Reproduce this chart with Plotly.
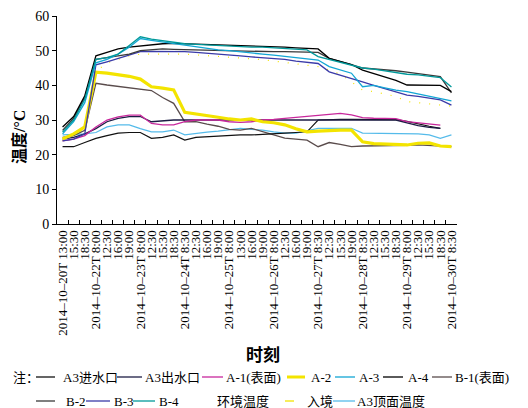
import plotly.graph_objects as go

categories = [
    "2014-10-20T 13:00", "2014-10-20T 15:30", "2014-10-20T 18:30",
    "2014-10-22T 8:00", "2014-10-22T 12:30", "2014-10-22T 16:00", "2014-10-22T 19:00",
    "2014-10-23T 8:00", "2014-10-23T 12:30", "2014-10-23T 15:30", "2014-10-23T 18:30",
    "2014-10-24T 8:30", "2014-10-24T 12:30", "2014-10-24T 16:00", "2014-10-24T 19:00",
    "2014-10-25T 8:00", "2014-10-25T 13:00", "2014-10-25T 16:00", "2014-10-25T 19:00",
    "2014-10-26T 8:00", "2014-10-26T 12:30", "2014-10-26T 16:00", "2014-10-26T 19:00",
    "2014-10-27T 8:30", "2014-10-27T 12:30", "2014-10-27T 15:30", "2014-10-27T 19:00",
    "2014-10-28T 8:30", "2014-10-28T 12:30", "2014-10-28T 15:30", "2014-10-28T 18:30",
    "2014-10-29T 8:00", "2014-10-29T 12:30", "2014-10-29T 15:30", "2014-10-29T 18:30",
    "2014-10-30T 8:30",
]

tick_labels = [
    "2014–10–20T 13:00", "15:30", "18:30",
    "2014–10–22T 8:00", "12:30", "16:00", "19:00",
    "2014–10–23T 8:00", "12:30", "15:30", "18:30",
    "2014–10–24T 8:30", "12:30", "16:00", "19:00",
    "2014–10–25T 8:00", "13:00", "16:00", "19:00",
    "2014–10–26T 8:00", "12:30", "16:00", "19:00",
    "2014–10–27T 8:30", "12:30", "15:30", "19:00",
    "2014–10–28T 8:30", "12:30", "15:30", "18:30",
    "2014–10–29T 8:00", "12:30", "15:30", "18:30",
    "2014–10–30T 8:30",
]

a3_inlet = [22.3, 22.3, 23.5, 24.7, 25.5, 26.2, 26.4, 26.4, 24.7, 25.0, 25.7, 24.2, 25.0, 25.2, 25.5, 25.5,
            25.7, 25.7, 25.8, 26.0, 26.2, 26.4, 26.6, 30.0, 30.2, 30.2, 30.2, 30.2, 30.2, 30.2, 30.1, 29.6,
            28.8, 28.2, 27.6, None]
a3_outlet = [24.5, 25.0, 26.0, 27.5, 29.5, 30.5, 31.0, 31.0, 29.5, 29.8, 30.0, 30.0, 30.0, 30.0, 30.0, 30.0,
             30.0, 30.0, 30.0, 30.0, 30.0, 30.0, 30.0, 30.1, 30.2, 30.2, 30.2, 30.2, 30.0, 30.0, 30.0, 29.2,
             28.4, 27.9, 27.6, None]
a1_surface = [24.0, 24.5, 25.5, 28.0, 30.0, 30.9, 31.4, 31.4, 29.0, 28.6, 28.6, 29.5, 30.0, 30.0, 30.0, 29.5,
              29.3, 29.5, 30.0, 30.2, 30.5, 30.8, 31.0, 31.2, 31.5, 31.9, 31.5, 30.7, 30.5, 30.4, 30.4, 29.5,
              29.2, 28.8, 28.5, None]
a2 = [24.5, 26.0, 28.0, 43.8, 43.5, 43.0, 42.6, 41.8, 39.6, 39.2, 38.7, 32.2, 31.8, 31.2, 30.8, 30.3,
      30.0, 30.3, 29.5, 29.2, 28.6, 27.5, 26.6, 26.8, 27.0, 27.1, 27.1, 23.7, 23.2, 23.0, 22.8, 22.8,
      23.3, 23.4, 22.5, 22.3]
a3 = [26.0, 29.5, 35.0, 46.5, 47.5, 49.0, 51.0, 53.5, 53.0, 52.5, 52.0, 51.5, 51.0, 50.6, 50.2, 50.0,
      49.6, 49.3, 49.0, 48.7, 48.3, 48.0, 47.6, 47.3, 45.4, 44.5, 43.5, 39.6, 40.0, 39.3, 38.6, 38.2,
      37.5, 36.7, 36.2, 35.5]
a4 = [28.0, 31.0, 37.0, 48.5, 49.5, 50.5, 51.0, 51.4, 51.8, 52.0, 52.1, 52.0, 51.8, 51.7, 51.6, 51.5,
      51.4, 51.4, 51.3, 51.2, 51.0, 50.8, 50.6, 50.5, 47.8, 47.0, 46.0, 44.4, 43.4, 42.5, 41.4, 40.1,
      40.1, 40.1, 40.0, 38.2]
b1_surface = [25.0, 25.5, 27.0, 40.6, 40.1, 39.7, 39.2, 38.7, 38.5, 36.5, 34.8, 29.5, 29.5, 28.8, 28.2, 27.3,
              27.1, 27.6, 26.6, 25.6, 24.8, 24.5, 24.2, 22.3, 23.5, 23.0, 22.3, 22.5, 22.5, 22.6, 22.6, 22.7,
              22.8, 22.6, 22.5, 22.3]
b2 = [27.0, 30.5, 36.5, 47.5, 48.0, 48.5, 49.0, 50.0, 50.3, 50.5, 50.4, 50.3, 50.2, 50.2, 50.0, 50.0,
      50.0, 49.8, 49.8, 49.7, 49.7, 49.6, 49.5, 49.5, 47.8, 47.0, 46.0, 45.0, 44.8, 44.5, 44.2, 43.8,
      43.4, 43.0, 42.5, 37.8]
b3 = [24.0, 24.5, 26.0, 45.9, 46.8, 47.8, 48.8, 49.7, 49.8, 49.8, 49.8, 49.7, 49.5, 49.3, 49.0, 48.7,
      48.5, 48.2, 48.0, 47.8, 47.5, 47.0, 46.6, 46.3, 43.9, 43.0, 42.0, 41.0, 40.0, 39.0, 38.0, 37.2,
      36.8, 36.3, 35.8, 34.3]
b4 = [26.5, 30.0, 36.0, 47.5, 48.0, 49.0, 51.5, 54.0, 53.3, 52.8, 52.3, 52.0, 51.8, 51.6, 51.5, 51.3,
      51.2, 51.0, 51.0, 50.8, 50.6, 50.4, 50.2, 48.3, 47.5, 46.8, 46.0, 45.0, 44.7, 44.2, 43.8, 43.2,
      43.0, 42.6, 42.2, 39.5]
ambient = [21.5, 21.5, 22.0, 22.5, 23.0, 23.5, 23.5, 23.0, 22.5, 22.5, 22.5, 22.0, 22.5, 22.5, 23.0, 23.0,
           23.0, 23.0, 23.0, 23.0, 23.0, 23.0, 23.0, 22.5, 22.0, 22.0, 22.0, 21.5, 21.5, 21.5, 21.5, 21.5,
           21.5, 21.5, 21.5, 21.5]
inflow = [24.0, 25.5, 27.5, 44.0, 46.5, 47.5, 48.5, 49.0, 49.0, 49.2, 49.0, 49.0, 48.8, 48.6, 48.4, 48.2,
          48.0, 47.7, 47.4, 47.0, 46.6, 46.2, 45.8, 45.4, 44.4, 43.2, 41.0, 38.6, 38.2, 37.6, 36.8, 35.3,
          35.0, 34.8, 34.5, 34.0]
a3_top = [25.7, 25.8, 26.0, 26.4, 28.0, 28.6, 28.6, 27.5, 26.6, 26.6, 27.1, 25.7, 26.2, 26.5, 26.8, 27.1,
          27.6, 27.3, 27.1, 26.6, 26.2, 26.2, 26.8, 27.6, 27.6, 27.6, 27.6, 26.2, 26.2, 26.2, 26.2, 26.2,
          26.0, 25.7, 24.7, 25.7]

series_names = ["A3进水口", "A3出水口", "A-1(表面)", "A-2", "A-3", "A-4", "B-1(表面)",
                "B-2", "B-3", "B-4", "环境温度", "入境", "A3顶面温度"]
series_values = [a3_inlet, a3_outlet, a1_surface, a2, a3, a4, b1_surface,
                 b2, b3, b4, ambient, inflow, a3_top]
colors = ["#111111", "#1c1c44", "#c8289c", "#f3e400", "#12a6d4", "#000000", "#5a4c4c",
          "#3a3a3a", "#3a3aa8", "#00999a", "#ffffff", "#f3e400", "#55bbea"]
widths = [1.2, 1.3, 1.3, 3.2, 1.3, 1.3, 1.3, 1.3, 1.3, 1.3, 1.0, 1.2, 1.2]
dashes = ["solid", "solid", "solid", "solid", "solid", "solid", "solid",
          "solid", "solid", "solid", "solid", "1px,9px", "solid"]

FONT = "Liberation Serif, 'Noto Sans CJK SC', serif"

fig = go.Figure()
draw_order = [10, 11, 12, 6, 0, 1, 2, 3, 8, 7, 5, 4, 9]
for k in draw_order:
    fig.add_trace(go.Scatter(
        x=categories, y=series_values[k], mode="lines", name=series_names[k],
        line=dict(color=colors[k], width=widths[k], dash=dashes[k]),
        showlegend=False, connectgaps=False,
    ))

# plot-area pixel frame
L, R, T, B = 57, 457, 16, 224


def px(x):
    return (x - L) / (R - L)


def py(y):
    return (B - y) / (B - T)


# manual legend layout: (line x0, line x1, text x, row y)
legend_pos = [
    (36, 55, 61, 377), (117, 142, 143, 377), (202, 223, 224, 377), (287, 305, 309, 377),
    (335, 355, 357, 377), (383, 403, 406, 377), (432, 452, 453, 377),
    (36, 55, 64, 401), (86, 110, 112, 401), (133, 155, 157, 401), (192, 212, 215, 401),
    (285, 302, 305, 401), (333, 355, 355, 401),
]

shapes = []
annotations = []
for k, (x0, x1, xt, yr) in enumerate(legend_pos):
    lw = 3 if k == 3 else 1.3
    shapes.append(dict(type="line", xref="paper", yref="paper",
                       x0=px(x0), x1=px(x1), y0=py(yr), y1=py(yr),
                       line=dict(color=colors[k], width=lw, dash="dash" if k == 11 else "solid")))
    annotations.append(dict(text=series_names[k], xref="paper", yref="paper",
                            x=px(xt), y=py(yr), xanchor="left", yanchor="middle",
                            showarrow=False, font=dict(family=FONT, size=13, color="black")))

annotations.append(dict(text="注：", xref="paper", yref="paper", x=px(11), y=py(377),
                        xanchor="left", yanchor="middle", showarrow=False,
                        font=dict(family=FONT, size=13, color="black")))
annotations.append(dict(text="时刻", xref="paper", yref="paper", x=px(263), y=py(355),
                        xanchor="center", yanchor="middle", showarrow=False,
                        font=dict(family=FONT, size=17, color="black", weight="bold")))
annotations.append(dict(text="温度/°C", xref="paper", yref="paper", x=px(19), y=py(137),
                        xanchor="center", yanchor="middle", showarrow=False, textangle=-90,
                        font=dict(family=FONT, size=16, color="black", weight="bold")))

fig.update_layout(
    width=528, height=408,
    margin=dict(l=L, r=528 - R, t=T, b=408 - B, pad=0),
    paper_bgcolor="white", plot_bgcolor="white",
    showlegend=False,
    font=dict(family=FONT, color="black"),
    shapes=shapes, annotations=annotations,
    xaxis=dict(type="category", categoryorder="array", categoryarray=categories,
               tickmode="array", tickvals=categories, ticktext=tick_labels,
               tickangle=-90, tickson="boundaries", ticks="inside", ticklen=4,
               tickcolor="black", showline=True, linecolor="black", linewidth=1,
               range=[-0.5, len(categories) - 0.5], showgrid=False, zeroline=False,
               tickfont=dict(family=FONT, size=13, color="black"), automargin=False),
    yaxis=dict(range=[0, 60], tickmode="linear", tick0=0, dtick=10, ticks="outside",
               ticklen=4, tickcolor="black", showline=True, linecolor="black", linewidth=1,
               showgrid=False, zeroline=False,
               tickfont=dict(family=FONT, size=14, color="black"), automargin=False),
)

fig.write_html("out.html")
